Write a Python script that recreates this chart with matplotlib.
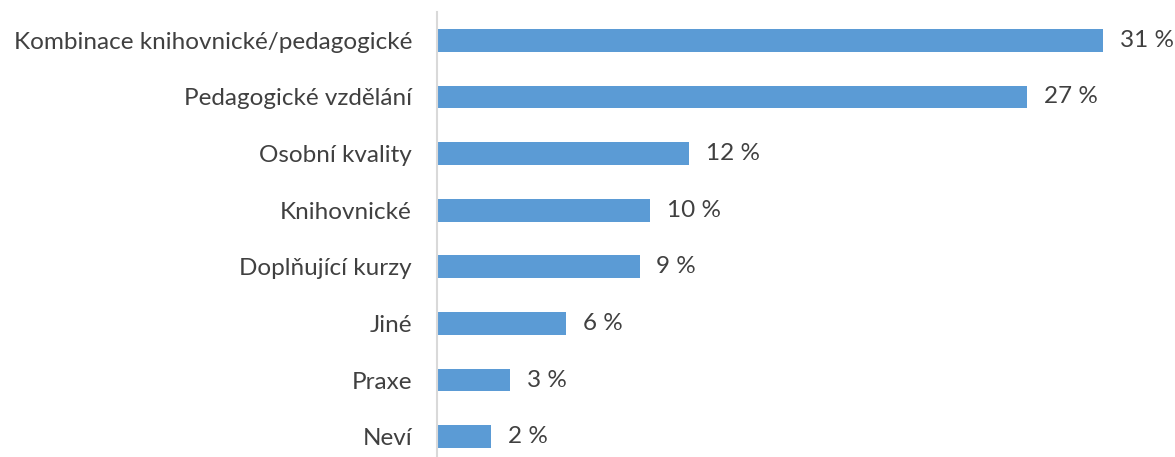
import matplotlib
matplotlib.use("Agg")
import matplotlib.pyplot as plt

plt.rcParams['font.family'] = ['Lato', 'DejaVu Sans']

# kategorie odshora dolu
kategorie = ["Kombinace knihovnické/pedagogické", "Pedagogické vzdělání", "Osobní kvality",
             "Knihovnické", "Doplňující kurzy", "Jiné", "Praxe", "Neví"]
hodnoty = [30.9, 27.4, 11.7, 9.9, 9.4, 6.0, 3.4, 2.5]
popisky = ["31 %", "27 %", "12 %", "10 %", "9 %", "6 %", "3 %", "2 %"]

W, H = 1175, 457
fig = plt.figure(figsize=(W / 100, H / 100), dpi=100)
ax = fig.add_axes([437 / W, -8 / H, 700 / W, 453 / H])

pos = list(range(len(kategorie)))[::-1]
ax.barh(pos, hodnoty, height=0.4, color='#5B9BD5')
ax.set_xlim(0, 700 / 21.55)
ax.set_ylim(-0.5, len(kategorie) - 0.5)

for p, v, t in zip(pos, hodnoty, popisky):
    ax.annotate(t, (v, p), xytext=(12, 0), textcoords='offset points',
                va='center', ha='left', fontsize=17.5, color='#404040')

ax.set_yticks(pos)
ax.set_yticklabels(kategorie, fontsize=17.5, color='#404040')
ax.tick_params(axis='y', length=0, pad=18)
ax.set_xticks([])
for s in ['top', 'right', 'bottom']:
    ax.spines[s].set_visible(False)
ax.spines['left'].set_color('#D9D9D9')
ax.spines['left'].set_linewidth(1.5)

fig.savefig('out.png', dpi=100)
